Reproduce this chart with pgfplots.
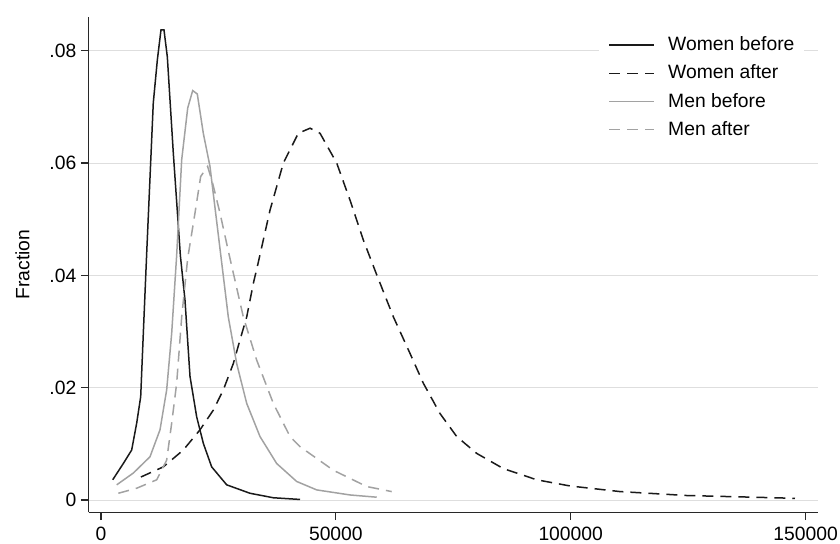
\documentclass[border=0pt]{standalone}
\usepackage{fontspec}
\setmainfont{Liberation Sans}
\usepackage{pgfplots}
\pgfplotsset{compat=1.18}
\usepackage{pgfplotstable}

\definecolor{wcol}{RGB}{26,26,26}
\definecolor{mcol}{RGB}{162,162,162}
\definecolor{gridcol}{RGB}{222,222,222}
\definecolor{spine}{RGB}{40,40,40}
\newcommand{\chartfont}{\fontsize{9.65}{11.6}\selectfont}

% earnings distributions
\pgfplotstableread{
x y
2490 0.0036
4750 0.0065
6530 0.0089
7600 0.0137
8450 0.0184
9010 0.0297
9730 0.0440
11130 0.0707
12000 0.0784
12770 0.0837
13410 0.0837
14120 0.0789
15400 0.0617
16900 0.0435
17880 0.0356
18950 0.0220
20370 0.0148
21780 0.0101
23560 0.0059
26760 0.0027
31720 0.0012
36690 0.0004
42370 0.0001
}\womenbefore

\pgfplotstableread{
x y
8500 0.0041
13270 0.0059
17520 0.0089
21080 0.0125
23910 0.0160
26040 0.0196
28170 0.0243
29590 0.0285
31020 0.0326
32440 0.0386
33400 0.0420
35980 0.0516
38820 0.0600
42010 0.0653
44500 0.0662
46630 0.0653
50180 0.0600
53010 0.0534
55850 0.0463
58700 0.0401
62250 0.0326
65790 0.0261
68620 0.0208
72170 0.0154
75730 0.0113
79990 0.0083
85650 0.0056
92760 0.0036
99850 0.0025
110500 0.0015
124700 0.0008
138900 0.0005
147750 0.0003
}\womenafter

\pgfplotstableread{
x y
3340 0.0027
6880 0.0048
10430 0.0077
12560 0.0125
13980 0.0196
15050 0.0297
16110 0.0436
17180 0.0606
18460 0.0698
19520 0.0729
20500 0.0723
21780 0.0653
23200 0.0594
25500 0.0436
27100 0.0326
28890 0.0243
31020 0.0172
33850 0.0113
37400 0.0065
41660 0.0033
45920 0.0018
53010 0.0009
58700 0.0005
}\menbefore

\pgfplotstableread{
x y
3690 0.0012
7600 0.0021
11860 0.0036
13980 0.0071
15050 0.0137
16110 0.0208
17180 0.0326
18450 0.0430
20010 0.0511
21220 0.0576
22700 0.0594
23770 0.0564
25330 0.0511
27300 0.0436
30300 0.0326
33150 0.0249
36690 0.0172
40240 0.0113
42370 0.0095
49460 0.0053
56570 0.0024
61890 0.0015
}\menafter

\begin{document}
\begin{tikzpicture}
\begin{axis}[
    at={(0,0)}, anchor=south west,
    scale only axis, width=364.65pt, height=247.65pt,
    xmin=-2620, xmax=152650, ymin=-0.00219, ymax=0.0860,
    scaled ticks=false,
    axis lines*=left, axis line style={spine, line width=0.6pt, -},
    tick align=outside, major tick length=3.85pt,
    tick style={spine, line width=0.6pt},
    xtick={0,50000,100000,150000}, xticklabels={0,50000,100000,150000},
    ytick={0,0.02,0.04,0.06,0.08}, yticklabels={0,.02,.04,.06,.08},
    minor tick num=0,
    ymajorgrids, grid style={gridcol, line width=0.5pt},
    tick label style={font=\chartfont, inner sep=0pt},
    xticklabel style={anchor=north, yshift=-3pt},
    yticklabel style={anchor=east, xshift=-2pt},
    ylabel={Fraction},
    every axis y label/.style={at={(axis description cs:-0.0908,0.5)},
        rotate=90, anchor=center, font=\chartfont},
    legend style={at={(0.6983,0.9718)}, anchor=north west, draw=none,
        fill=white, font=\chartfont, inner xsep=5pt, inner ysep=2.5pt,
        row sep=5.6pt, nodes={inner sep=0pt},
        /tikz/every odd column/.append style={column sep=6.5pt}},
    legend cell align=left,
    legend image code/.code={\draw[#1] (0pt,0pt) -- (22.5pt,0pt);},
    line width=0.75pt,
]
\addplot[wcol, no markers] table {\womenbefore};
\addplot[wcol, no markers, dash pattern=on 5.5pt off 3.5pt] table {\womenafter};
\addplot[mcol, no markers] table {\menbefore};
\addplot[mcol, no markers, dash pattern=on 5.5pt off 3.5pt] table {\menafter};
\legend{Women before, Women after, Men before, Men after}
\end{axis}
\pgfresetboundingbox
\path[use as bounding box] (-44.35pt,-15.35pt) rectangle (375.65pt,256.15pt);
\end{tikzpicture}
\end{document}
